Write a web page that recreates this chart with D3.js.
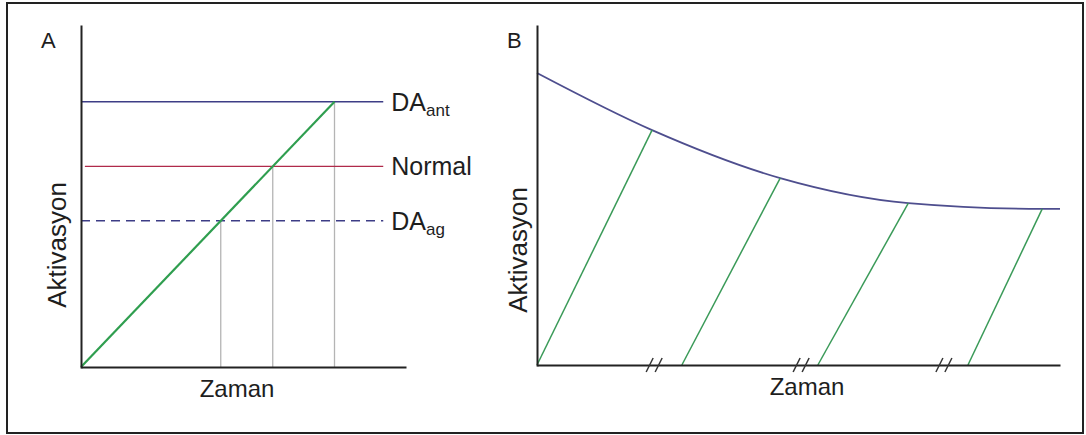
<!DOCTYPE html>
<html>
<head>
<meta charset="utf-8">
<script src="https://cdn.jsdelivr.net/npm/d3@7"></script>
<style>
  html, body { margin: 0; padding: 0; background: #fff; }
  svg { display: block; }
  text { font-family: "Liberation Sans", Arial, sans-serif; fill: #1e1e1e; }
</style>
</head>
<body>
<svg id="chart" width="1086" height="435"></svg>
<script>
// Panel A: activation thresholds and the linear rise of activation over time
const levelNames = ["DA", "Normal", "DA"];
const levelSubs = ["ant", "", "ag"];
const levelValues = [78, 59, 43];
const riseA = [[0, 0], [78, 78]];

// Panel B: declining ceiling and repeated rises after each interruption
const ceilingTimes = [0, 22, 46.5, 71, 96.6, 100];
const ceilingValues = [86.4, 69.5, 55.3, 47.9, 46.2, 46.2];
const riseStarts = [0, 27.7, 53.7, 82.4];
const riseEnds = [22, 46.5, 71, 96.6];
const breakTimes = [22.4, 50.5, 77.8];

const axisLabelX = "Zaman";
const axisLabelY = "Aktivasyon";
const panelNames = ["A", "B"];

const svg = d3.select("#chart");

// outer frame
svg.append("rect")
  .attr("x", 7).attr("y", 3).attr("width", 1076).attr("height", 430)
  .attr("fill", "none").attr("stroke", "#222").attr("stroke-width", 2);

// ---------- Panel A ----------
const xA = d3.scaleLinear().domain([0, 100]).range([81, 406]);
const yA = d3.scaleLinear().domain([0, 100]).range([367, 27]);
const gA = svg.append("g");

const levelStyle = [
  { color: "#3d3d86", dash: null, x0: 0 },
  { color: "#b02a4a", dash: null, x0: 1.2 },
  { color: "#3d3d86", dash: "9,6", x0: 0 }
];

// vertical guides from each crossing down to the time axis
gA.selectAll("line.guide").data(levelValues).join("line")
  .attr("class", "guide")
  .attr("x1", d => xA(d)).attr("x2", d => xA(d))
  .attr("y1", d => yA(d)).attr("y2", yA(0))
  .attr("stroke", "#b4b4b4").attr("stroke-width", 1.3);

// threshold lines
gA.selectAll("line.level").data(levelValues).join("line")
  .attr("class", "level")
  .attr("x1", (d, i) => xA(levelStyle[i].x0)).attr("x2", xA(93))
  .attr("y1", d => yA(d)).attr("y2", d => yA(d))
  .attr("stroke", (d, i) => levelStyle[i].color)
  .attr("stroke-width", 1.4)
  .attr("stroke-dasharray", (d, i) => levelStyle[i].dash);

// threshold labels
const lab = gA.selectAll("text.level").data(levelValues).join("text")
  .attr("class", "level")
  .attr("x", xA(93) + 8)
  .attr("y", d => yA(d) + 9)
  .attr("font-size", 25);
lab.append("tspan").text((d, i) => levelNames[i]);
lab.append("tspan").attr("font-size", 17).attr("dy", 5)
  .text((d, i) => levelSubs[i]);

// rising activation
gA.append("path")
  .datum(riseA)
  .attr("d", d3.line().x(d => xA(d[0])).y(d => yA(d[1])))
  .attr("stroke", "#2f9e4f").attr("stroke-width", 2.2).attr("fill", "none");

// axes
gA.append("g").attr("transform", `translate(0,${yA(0)})`)
  .call(d3.axisBottom(xA).tickValues([]).tickSizeOuter(0))
  .call(g => g.select(".domain").attr("stroke", "#222").attr("stroke-width", 2));
gA.append("g").attr("transform", `translate(${xA(0)},0)`)
  .call(d3.axisLeft(d3.scaleLinear().domain([0, 1]).range([yA(0) + 1, 25])).tickValues([]).tickSizeOuter(0))
  .call(g => g.select(".domain").attr("stroke", "#222").attr("stroke-width", 2));

gA.append("text").attr("x", xA(48)).attr("y", 397)
  .attr("text-anchor", "middle").attr("font-size", 24).text(axisLabelX);
gA.append("text")
  .attr("transform", `translate(66,245) rotate(-90)`)
  .attr("text-anchor", "middle").attr("font-size", 26).text(axisLabelY);
gA.append("text").attr("x", 41).attr("y", 48).attr("font-size", 22).text(panelNames[0]);

// ---------- Panel B ----------
const xB = d3.scaleLinear().domain([0, 100]).range([537, 1060]);
const yB = d3.scaleLinear().domain([0, 100]).range([365, 27]);
const gB = svg.append("g");

const ceilingPts = ceilingTimes.map((t, i) => [t, ceilingValues[i]]);
const ceilingAt = t => ceilingValues[ceilingTimes.indexOf(t)];

gB.append("path")
  .datum(ceilingPts)
  .attr("d", d3.line().curve(d3.curveMonotoneX).x(d => xB(d[0])).y(d => yB(d[1])))
  .attr("stroke", "#4e4e8e").attr("stroke-width", 1.8).attr("fill", "none");

gB.selectAll("line.rise").data(riseStarts).join("line")
  .attr("class", "rise")
  .attr("x1", d => xB(d)).attr("y1", yB(0))
  .attr("x2", (d, i) => xB(riseEnds[i])).attr("y2", (d, i) => yB(ceilingAt(riseEnds[i])))
  .attr("stroke", "#3a9a58").attr("stroke-width", 1.5);

gB.append("g").attr("transform", `translate(0,${yB(0)})`)
  .call(d3.axisBottom(xB).tickValues([]).tickSizeOuter(0))
  .call(g => g.select(".domain").attr("stroke", "#222").attr("stroke-width", 2));
gB.append("g").attr("transform", `translate(${xB(0)},0)`)
  .call(d3.axisLeft(d3.scaleLinear().domain([0, 1]).range([yB(0) + 1, 25])).tickValues([]).tickSizeOuter(0))
  .call(g => g.select(".domain").attr("stroke", "#222").attr("stroke-width", 2));

// axis break marks
const brk = gB.selectAll("g.break").data(breakTimes).join("g")
  .attr("class", "break")
  .attr("transform", d => `translate(${xB(d)},${yB(0)})`);
[-4.5, 4.5].forEach(off => {
  brk.append("line")
    .attr("x1", off - 3.5).attr("y1", 7)
    .attr("x2", off + 3.5).attr("y2", -7)
    .attr("stroke", "#333").attr("stroke-width", 1.5);
});

gB.append("text").attr("x", 807).attr("y", 395)
  .attr("text-anchor", "middle").attr("font-size", 24).text(axisLabelX);
gB.append("text")
  .attr("transform", `translate(527,250) rotate(-90)`)
  .attr("text-anchor", "middle").attr("font-size", 26).text(axisLabelY);
gB.append("text").attr("x", 507).attr("y", 48).attr("font-size", 22).text(panelNames[1]);
</script>
</body>
</html>
